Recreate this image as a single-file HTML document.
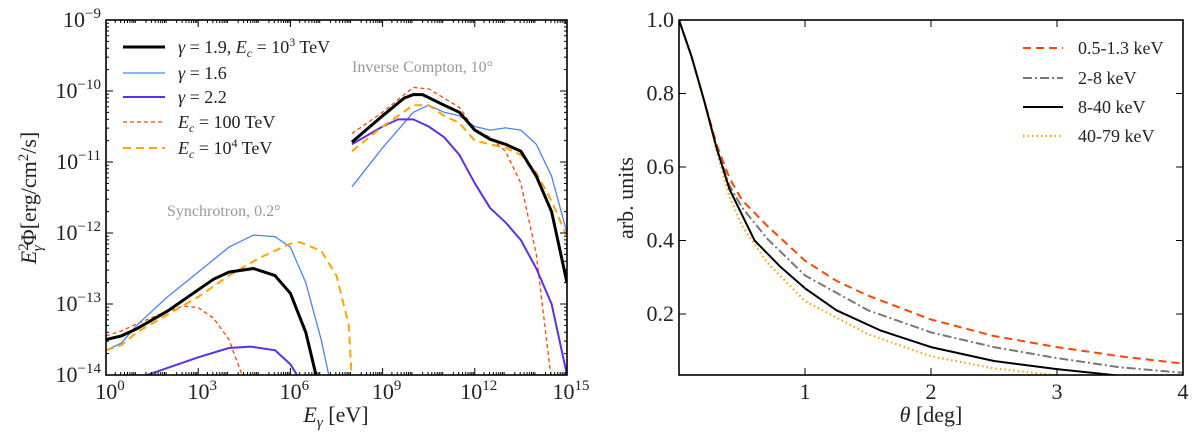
<!DOCTYPE html>
<html><head><meta charset="utf-8"><style>
html,body{margin:0;padding:0;background:#fff;}
svg{display:block;font-family:"Liberation Serif",serif;}
</style></head><body>
<svg id="fig" width="1200" height="448" viewBox="0 0 1200 448" xmlns="http://www.w3.org/2000/svg">
<g id="left"></g>
<g id="right"></g>
</svg>
<script>
// ---------- Left panel data (log10 E [eV], log10 flux) ----------
const blackSyncE=[0,0.5,1,2,3,3.5,4,4.8,5.5,6,6.5,7];
const blackSyncF=[-13.5,-13.45,-13.35,-13.1,-12.8,-12.65,-12.55,-12.5,-12.6,-12.85,-13.4,-14.3];
const blackIcE=[8,9,9.7,10,10.3,11,11.5,12,12.5,13,13.5,14,14.5,15];
const blackIcF=[-10.72,-10.35,-10.1,-10.05,-10.05,-10.2,-10.3,-10.55,-10.68,-10.75,-10.85,-11.2,-11.7,-12.7];
const blueSyncE=[0,0.5,1,2,3,4,4.8,5.5,6,6.5,7,7.5];
const blueSyncF=[-13.65,-13.55,-13.3,-12.9,-12.55,-12.2,-12.03,-12.05,-12.2,-12.7,-13.5,-14.5];
const blueIcE=[8,9,10,10.5,11,11.5,12,12.5,13,13.5,14,14.5,15];
const blueIcF=[-11.35,-10.8,-10.3,-10.2,-10.3,-10.35,-10.5,-10.55,-10.52,-10.55,-10.75,-11.2,-12.0];
const purpleSyncE=[1,2,3,4,4.7,5.5,6,6.5];
const purpleSyncF=[-14.05,-13.9,-13.75,-13.62,-13.6,-13.65,-13.85,-14.2];
const purpleIcE=[8,9,9.5,10,10.5,11,11.5,12,12.5,13,13.5,14,14.5,15];
const purpleIcF=[-10.75,-10.5,-10.4,-10.4,-10.5,-10.65,-10.9,-11.3,-11.65,-11.85,-12.1,-12.5,-13.0,-14.0];
const redSyncE=[0,0.5,1,2,2.5,3,3.5,4,4.6];
const redSyncF=[-13.45,-13.38,-13.28,-13.1,-13.03,-13.05,-13.2,-13.5,-14.2];
const redIcE=[8,9,10,10.5,11,11.5,12,12.5,13,13.5,14,14.5];
const redIcF=[-10.6,-10.3,-9.95,-9.97,-10.1,-10.23,-10.55,-10.65,-10.85,-11.3,-12.3,-14.1];
const orangeSyncE=[0,0.5,1,2,3,4,5,6,6.3,7,7.5,7.9,8.0];
const orangeSyncF=[-13.65,-13.58,-13.4,-13.15,-12.9,-12.6,-12.35,-12.15,-12.13,-12.25,-12.6,-13.3,-14.1];
const orangeIcE=[8,9,10,10.5,11,11.5,12,12.5,13,13.5,14,14.5,15];
const orangeIcF=[-10.85,-10.5,-10.2,-10.2,-10.35,-10.45,-10.7,-10.75,-10.8,-10.9,-11.15,-11.55,-12.05];
const xTickExp=[0,3,6,9,12,15];
const yTickExp=[-14,-13,-12,-11,-10,-9];
// ---------- Right panel data ----------
const thRed=[0,0.1,0.2,0.3,0.4,0.5,0.7,1.0,1.25,1.5,2,2.5,3,3.5,4];
const vRed=[1.0,0.9,0.78,0.66,0.57,0.51,0.44,0.345,0.29,0.25,0.185,0.14,0.11,0.085,0.065];
const thGray=[0,0.1,0.2,0.3,0.4,0.5,0.7,1,1.5,2,2.5,3,3.5,4];
const vGray=[1.0,0.9,0.78,0.65,0.55,0.49,0.405,0.305,0.21,0.15,0.11,0.08,0.055,0.04];
const thBlack=[0,0.1,0.2,0.3,0.4,0.5,0.6,0.8,1.0,1.25,1.6,2,2.5,3,3.5,4];
const vBlack=[1.0,0.9,0.78,0.65,0.54,0.47,0.40,0.33,0.27,0.21,0.155,0.11,0.072,0.05,0.032,0.02];
const thOrange=[0,0.1,0.2,0.3,0.4,0.5,0.7,1,1.5,2,2.5,3,3.5,4];
const vOrange=[1.0,0.9,0.78,0.64,0.52,0.44,0.34,0.235,0.145,0.085,0.052,0.033,0.02,0.012];
const rxTicks=[1,2,3,4];
const ryTicks=[0.2,0.4,0.6,0.8,1.0];

const NS="http://www.w3.org/2000/svg";
function mk(tag,attrs,parent){const e=document.createElementNS(NS,tag);for(const k in attrs)e.setAttribute(k,attrs[k]);parent.appendChild(e);return e;}

const L={x0:106,x1:567,y0:20,y1:375};
const lx=v=>L.x0+(v-0)/15*(L.x1-L.x0);
const ly=v=>L.y0+(-9-v)/5*(L.y1-L.y0);
const lg=document.getElementById('left');
const defs=mk('defs',{},document.getElementById('fig'));
const cp=mk('clipPath',{id:'clipL'},defs);mk('rect',{x:L.x0,y:L.y0,width:L.x1-L.x0,height:L.y1-L.y0},cp);
const cp2=mk('clipPath',{id:'clipR'},defs);mk('rect',{x:679,y:20,width:504,height:355},cp2);

function line(g,xs,ys,fx,fy,style,name,clip){
  const d=xs.map((x,i)=>(i?'L':'M')+fx(x).toFixed(1)+','+fy(ys[i]).toFixed(1)).join('');
  const p=mk('path',Object.assign({d:d,fill:'none','clip-path':'url(#'+clip+')','stroke-linejoin':'round'},style),g);
  
  
}
const sBlack={stroke:'#000','stroke-width':3};
const sBlue={stroke:'#4d7fff','stroke-width':1.3};
const sPurple={stroke:'#5b2ff0','stroke-width':2};
const sRed={stroke:'#ff4500','stroke-width':1.3,'stroke-dasharray':'4,3'};
const sOrange={stroke:'#ffa500','stroke-width':2,'stroke-dasharray':'8,5'};
line(lg,redSyncE,redSyncF,lx,ly,sRed,'ec100-sync-line','clipL');
line(lg,redIcE,redIcF,lx,ly,sRed,'ec100-ic-line','clipL');
line(lg,blueSyncE,blueSyncF,lx,ly,sBlue,'gamma16-sync-line','clipL');
line(lg,blueIcE,blueIcF,lx,ly,sBlue,'gamma16-ic-line','clipL');
line(lg,purpleSyncE,purpleSyncF,lx,ly,sPurple,'gamma22-sync-line','clipL');
line(lg,purpleIcE,purpleIcF,lx,ly,sPurple,'gamma22-ic-line','clipL');
line(lg,orangeSyncE,orangeSyncF,lx,ly,sOrange,'ec1e4-sync-line','clipL');
line(lg,orangeIcE,orangeIcF,lx,ly,sOrange,'ec1e4-ic-line','clipL');
line(lg,blackSyncE,blackSyncF,lx,ly,sBlack,'gamma19-sync-line','clipL');
line(lg,blackIcE,blackIcF,lx,ly,sBlack,'gamma19-ic-line','clipL');

let tk='';
for(let e=0;e<15;e++){for(let m=2;m<10;m++){const x=lx(e+Math.log10(m));tk+=`M${x},${L.y1}v-3M${x},${L.y0}v3`;}}
xTickExp.forEach(e=>{const x=lx(e);tk+=`M${x},${L.y1}v-7M${x},${L.y0}v7`;});
for(let e=-14;e<-9;e++){for(let m=2;m<10;m++){const y=ly(e+Math.log10(m));tk+=`M${L.x0},${y}h3M${L.x1},${y}h-3`;}}
yTickExp.forEach(e=>{const y=ly(e);tk+=`M${L.x0},${y}h7M${L.x1},${y}h-7`;});
mk('path',{d:tk,stroke:'#000','stroke-width':1,fill:'none'},lg);
const fr=mk('rect',{x:L.x0,y:L.y0,width:L.x1-L.x0,height:L.y1-L.y0,fill:'none',stroke:'#000','stroke-width':1.6},lg);


xTickExp.forEach(e=>{
  const t=mk('text',{x:lx(e)+4,y:399,'text-anchor':'middle','font-size':22,fill:'#222'},lg);
  t.innerHTML='10<tspan dy="-9" font-size="15">'+e+'</tspan>';
  
});
yTickExp.forEach(e=>{
  const t=mk('text',{x:101,y:ly(e)+7,'text-anchor':'end','font-size':22,fill:'#222'},lg);
  t.innerHTML='10<tspan dy="-9" font-size="15">−'+(-e)+'</tspan>';
  
});
</script>
<script>
(function(){
const lg=document.getElementById('left');
const NS="http://www.w3.org/2000/svg";
function mk(tag,attrs,parent){const e=document.createElementNS(NS,tag);for(const k in attrs)e.setAttribute(k,attrs[k]);parent.appendChild(e);return e;}
let t=mk('text',{x:336,y:422,'text-anchor':'middle','font-size':22,fill:'#222'},lg);
t.innerHTML='<tspan font-style="italic">E</tspan><tspan font-style="italic" font-size="15" dy="5">γ</tspan><tspan dy="-5"> [eV]</tspan>';

t=mk('text',{x:0,y:0,'text-anchor':'middle','font-size':22,fill:'#222',transform:'translate(36,198) rotate(-90)'},lg);
t.innerHTML='<tspan font-style="italic">E</tspan><tspan font-size="15" dy="-8">2</tspan><tspan font-style="italic" font-size="15" dx="-8" dy="14">γ</tspan><tspan dy="-6">Φ[erg/cm</tspan><tspan font-size="15" dy="-8">2</tspan><tspan dy="8">/s]</tspan>';

t=mk('text',{x:352,y:72,'font-size':16,fill:'#999'},lg);t.textContent='Inverse Compton, 10°';

t=mk('text',{x:167,y:216,'font-size':16,fill:'#999'},lg);t.textContent='Synchrotron, 0.2°';

const leg=[
 ['#000',3,'', '<tspan font-style="italic">γ</tspan> = 1.9, <tspan font-style="italic">E</tspan><tspan font-style="italic" font-size="12" dy="4">c</tspan><tspan dy="-4"> = 10</tspan><tspan font-size="12" dy="-7">3</tspan><tspan dy="7"> TeV</tspan>'],
 ['#4d7fff',1.3,'', '<tspan font-style="italic">γ</tspan> = 1.6'],
 ['#5b2ff0',2,'', '<tspan font-style="italic">γ</tspan> = 2.2'],
 ['#ff4500',1.3,'4,3', '<tspan font-style="italic">E</tspan><tspan font-style="italic" font-size="12" dy="4">c</tspan><tspan dy="-4"> = 100 TeV</tspan>'],
 ['#ffa500',2,'8,5', '<tspan font-style="italic">E</tspan><tspan font-style="italic" font-size="12" dy="4">c</tspan><tspan dy="-4"> = 10</tspan><tspan font-size="12" dy="-7">4</tspan><tspan dy="7"> TeV</tspan>']];
const rows=[47,73,97,122,148];
leg.forEach((l,i)=>{
 const g=mk('g',{},lg);
 mk('line',{x1:123,x2:165,y1:rows[i],y2:rows[i],stroke:l[0],'stroke-width':l[1],'stroke-dasharray':l[2]||'none'},g);
 const tx=mk('text',{x:178,y:rows[i]+6,'font-size':18,fill:'#222'},g);tx.innerHTML=l[3];
});
})();
</script>
<script>
(function(){
const NS="http://www.w3.org/2000/svg";
function mk(tag,attrs,parent){const e=document.createElementNS(NS,tag);for(const k in attrs)e.setAttribute(k,attrs[k]);parent.appendChild(e);return e;}
const R={x0:679,x1:1183,y0:20,y1:375};
const ymin=0.034;
const rx=v=>R.x0+v/4*(R.x1-R.x0);
const ry=v=>R.y1-(v-ymin)/(1-ymin)*(R.y1-R.y0);
const rg=document.getElementById('right');
function line(xs,ys,style,name){
  const d=xs.map((x,i)=>(i?'L':'M')+rx(x).toFixed(1)+','+ry(ys[i]).toFixed(1)).join('');
  const p=mk('path',Object.assign({d:d,fill:'none','clip-path':'url(#clipR)','stroke-linejoin':'round'},style),rg);
  
  
}
const st=[
 [{stroke:'#ff4500','stroke-width':2,'stroke-dasharray':'8,5'},'band-0p5-1p3-line'],
 [{stroke:'#777','stroke-width':2,'stroke-dasharray':'9,3,2,3'},'band-2-8-line'],
 [{stroke:'#000','stroke-width':2},'band-8-40-line'],
 [{stroke:'#ffa500','stroke-width':2.2,'stroke-dasharray':'1.5,3'},'band-40-79-line']];
line(thRed,vRed,st[0][0],st[0][1]);
line(thGray,vGray,st[1][0],st[1][1]);
line(thOrange,vOrange,st[3][0],st[3][1]);
line(thBlack,vBlack,st[2][0],st[2][1]);
let tk='';
rxTicks.forEach(v=>{const x=rx(v);tk+=`M${x},${R.y1}v-7M${x},${R.y0}v7`;});
ryTicks.forEach(v=>{const y=ry(v);tk+=`M${R.x0},${y}h7M${R.x1},${y}h-7`;});
mk('path',{d:tk,stroke:'#000','stroke-width':1,fill:'none'},rg);
const fr=mk('rect',{x:R.x0,y:R.y0,width:R.x1-R.x0,height:R.y1-R.y0,fill:'none',stroke:'#000','stroke-width':1.6},rg);

rxTicks.forEach(v=>{const t=mk('text',{x:rx(v),y:399,'text-anchor':'middle','font-size':22,fill:'#222'},rg);t.textContent=String(v);
 });
ryTicks.forEach(v=>{const t=mk('text',{x:674,y:ry(v)+7,'text-anchor':'end','font-size':22,fill:'#222'},rg);t.textContent=v.toFixed(1);
 });
let t=mk('text',{x:931,y:422,'text-anchor':'middle','font-size':22,fill:'#222'},rg);
t.innerHTML='<tspan font-style="italic">θ</tspan> [deg]';
t=mk('text',{x:0,y:0,'text-anchor':'middle','font-size':22,fill:'#222',transform:'translate(633,198) rotate(-90)'},rg);
t.textContent='arb.  units';
const labels=['0.5-1.3 keV','2-8 keV','8-40 keV','40-79 keV'];
const rows=[48,78,107,136];
labels.forEach((lab,i)=>{
 const g=mk('g',{},rg);
 mk('line',Object.assign({x1:1023,x2:1063,y1:rows[i],y2:rows[i]},st[i][0]),g);
 const tx=mk('text',{x:1078,y:rows[i]+6,'font-size':18,fill:'#222'},g);tx.textContent=lab;
});
})();
</script>
</body></html>
